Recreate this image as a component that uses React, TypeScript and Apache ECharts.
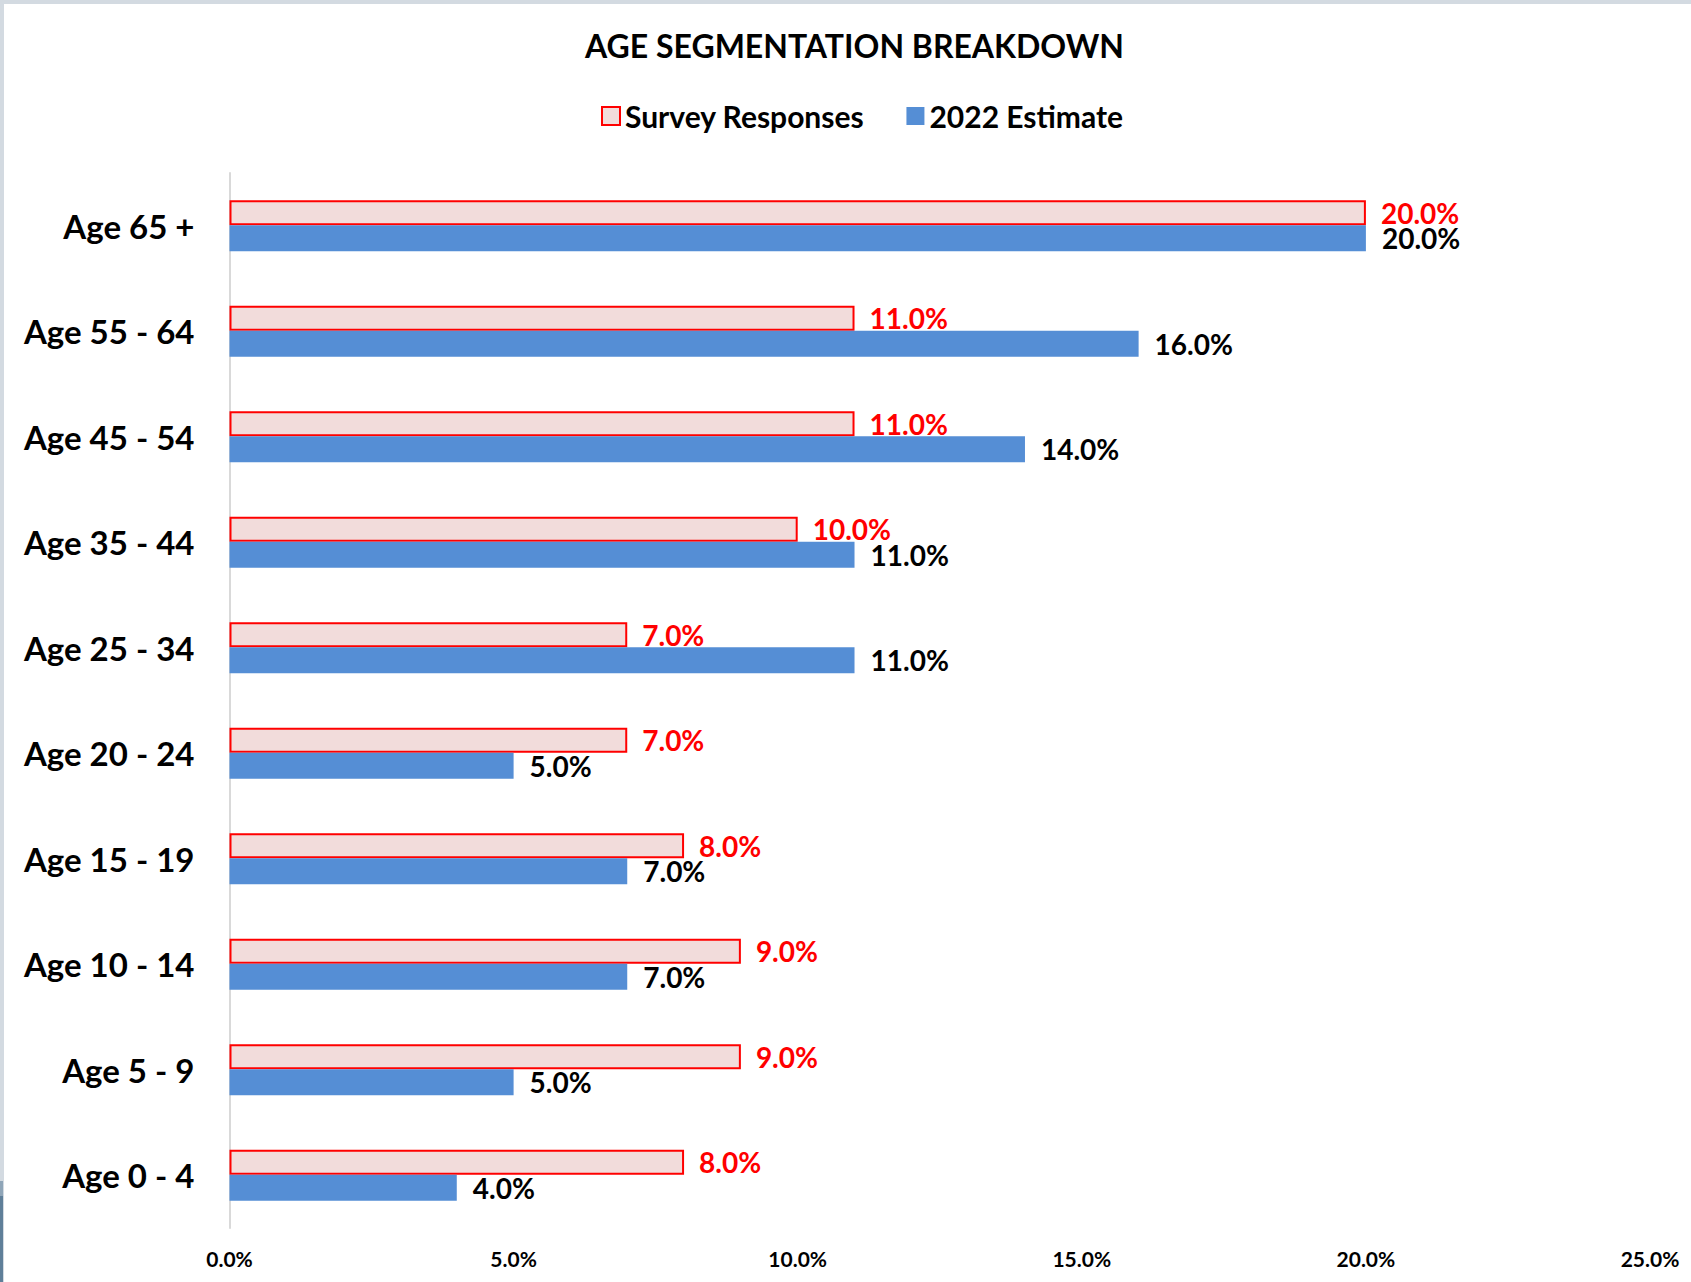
import React, { useEffect, useRef } from "react";
import * as echarts from "echarts";

const categories = [
  "Age 65 +",
  "Age 55 - 64",
  "Age 45 - 54",
  "Age 35 - 44",
  "Age 25 - 34",
  "Age 20 - 24",
  "Age 15 - 19",
  "Age 10 - 14",
  "Age 5 - 9",
  "Age 0 - 4",
];
const surveyResponses = [20, 11, 11, 10, 7, 7, 8, 9, 9, 8];
const estimate2022 = [20, 16, 14, 11, 11, 5, 7, 7, 5, 4];
const seriesNames = ["Survey Responses", "2022 Estimate"];
const titleText = "AGE SEGMENTATION BREAKDOWN";

const FONT = "Lato, 'Noto Sans', sans-serif";
const pct = (v: number) => `${Number(v).toFixed(1)}%`;

export default function App() {
  const ref = useRef<HTMLDivElement>(null);
  useEffect(() => {
    if (!ref.current) return;
    const chart = echarts.init(ref.current, null, { renderer: "svg" });
    chart.setOption({
      animation: false,
      backgroundColor: "#ffffff",
      title: {
        text: titleText,
        left: 580,
        top: 24,
        textStyle: { fontFamily: FONT, fontWeight: "bold", fontSize: 32, color: "#000000" },
      },
      legend: {
        left: 596,
        top: 96,
        itemWidth: 18,
        itemHeight: 18,
        itemGap: 42,
        icon: "rect",
        data: seriesNames,
        textStyle: { fontFamily: FONT, fontWeight: "bold", fontSize: 30, color: "#000000" },
      },
      graphic: [
        { type: "rect", shape: { x: 0, y: 0, width: 1691, height: 4 }, style: { fill: "#D3DAE1" } },
        { type: "rect", shape: { x: 0, y: 0, width: 4, height: 1282 }, style: { fill: "#D3DAE1" } },
        { type: "rect", shape: { x: 0, y: 1181, width: 3, height: 15 }, style: { fill: "#8FA5B8" } },
        { type: "rect", shape: { x: 0, y: 1196, width: 3, height: 86 }, style: { fill: "#5F7F99" } },
      ],
      grid: { left: 229.5, right: 41, top: 173, bottom: 54, containLabel: false },
      xAxis: {
        type: "value",
        min: 0,
        max: 25,
        interval: 5,
        axisLine: { show: false },
        axisTick: { show: false },
        splitLine: { show: false },
        axisLabel: {
          formatter: (v: number) => pct(v),
          fontFamily: FONT,
          fontWeight: "bold",
          fontSize: 21,
          color: "#000000",
          margin: 20,
        },
      },
      yAxis: {
        type: "category",
        data: categories,
        inverse: true,
        axisLine: { show: true, lineStyle: { color: "#D9D9D9", width: 2 } },
        axisTick: { show: false },
        axisLabel: {
          fontFamily: FONT,
          fontWeight: "bold",
          fontSize: 33,
          color: "#000000",
          margin: 35,
        },
      },
      series: [
        {
          name: seriesNames[0],
          type: "bar",
          data: surveyResponses,
          barWidth: 25,
          barGap: "0%",
          itemStyle: { color: "#F2DCDB", borderColor: "#FF0000", borderWidth: 2 },
          label: {
            show: true,
            position: "right",
            distance: 15,
            formatter: (p: any) => pct(p.value),
            fontFamily: FONT,
            fontWeight: "bold",
            fontSize: 28,
            color: "#FF0000",
          },
        },
        {
          name: seriesNames[1],
          type: "bar",
          data: estimate2022,
          barWidth: 26,
          barGap: "0%",
          itemStyle: { color: "#558ED5" },
          label: {
            show: true,
            position: "right",
            distance: 16,
            formatter: (p: any) => pct(p.value),
            fontFamily: FONT,
            fontWeight: "bold",
            fontSize: 28,
            color: "#000000",
          },
        },
      ],
    });
    return () => chart.dispose();
  }, []);
  return (
    <div
      ref={ref}
      style={{ position: "fixed", left: 0, top: 0, width: 1691, height: 1282, background: "#fff" }}
    />
  );
}
